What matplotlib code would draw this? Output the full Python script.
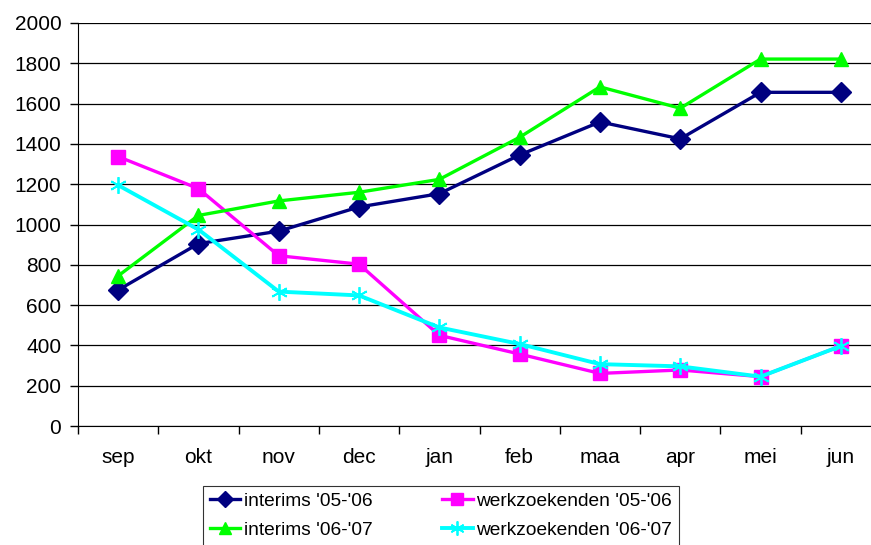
import matplotlib
matplotlib.use("Agg")
import matplotlib.pyplot as plt
import numpy as np

# months on the x axis
months = ["sep", "okt", "nov", "dec", "jan", "feb", "maa", "apr", "mei", "jun"]

# series
interims_0506 = [675, 905, 967, 1087, 1153, 1345, 1509, 1425, 1656, 1656]
werkzoekenden_0506 = [1337, 1178, 845, 803, 450, 357, 261, 278, 245, 397]
interims_0607 = [745, 1045, 1117, 1160, 1224, 1433, 1683, 1577, 1821, 1821]
werkzoekenden_0607 = [1195, 975, 667, 648, 489, 407, 307, 296, 245, 397]

yticks = list(range(0, 2001, 200))

plt.rcParams["font.family"] = ["Liberation Sans", "DejaVu Sans"]

fig = plt.figure(figsize=(8.71, 5.45), dpi=100)
# the plot area runs a bit past the right edge of the picture
ax = fig.add_axes([78 / 871, 1 - 426 / 545, 803 / 871, 403 / 545])

x = np.arange(len(months))
l1, = ax.plot(x, interims_0506, color="#000080", lw=2.4, marker="D", ms=10,
              label="interims '05-'06", clip_on=False)
l2, = ax.plot(x, werkzoekenden_0506, color="#FF00FF", lw=2.4, marker="s", ms=10.5,
              label="werkzoekenden '05-'06", clip_on=False)
l3, = ax.plot(x, interims_0607, color="#00FF00", lw=2.4, marker="^", ms=10.5,
              label="interims '06-'07", clip_on=False)
l4, = ax.plot(x, werkzoekenden_0607, color="#00FFFF", lw=2.8, marker=(6, 2, 0), ms=12,
              mew=1.3, label="werkzoekenden '06-'07", clip_on=False)

ax.set_xlim(-0.5, len(months) - 0.5)
ax.set_ylim(0, 2000)
ax.set_yticks(yticks)
ax.set_xticks(x)
ax.set_xticklabels(months)
ax.set_xticks(np.arange(-0.5, len(months)), minor=True)
ax.tick_params(axis="x", which="major", length=0, pad=16, labelsize=15)
ax.tick_params(axis="x", which="minor", length=6, width=1, direction="out")
ax.tick_params(axis="y", length=6, width=1, direction="out", pad=6, labelsize=15)

ax.grid(axis="y", color="black", lw=0.9)
ax.set_axisbelow(True)
for side in ["top", "right"]:
    ax.spines[side].set_visible(False)
ax.spines["left"].set_color("black")
ax.spines["bottom"].set_color("black")

leg = fig.legend(handles=[l1, l3, l2, l4], ncol=2, loc="upper left",
                 bbox_to_anchor=(203 / 871, 1 - 486 / 545), borderaxespad=0,
                 fontsize=13.8, frameon=True, fancybox=False, edgecolor="black",
                 handlelength=1.6, handletextpad=0.2, columnspacing=3.6,
                 labelspacing=0.6, borderpad=0.35, markerscale=0.85)
leg.get_frame().set_linewidth(0.8)

fig.savefig("out.png", dpi=100)
